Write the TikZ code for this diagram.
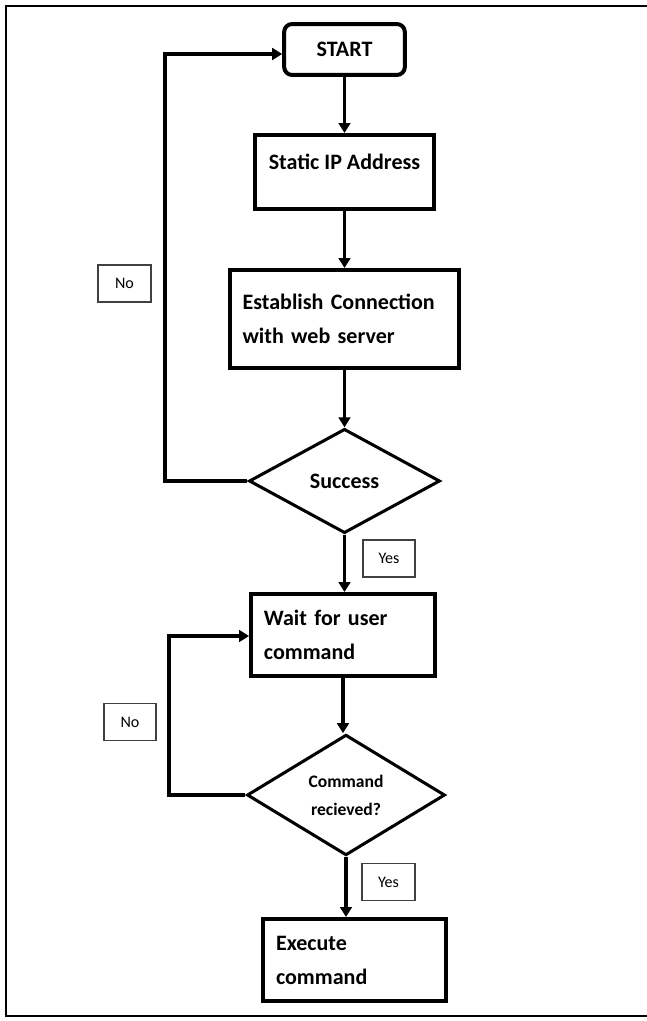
\documentclass[tikz,border=0pt]{standalone}
\usepackage{fontspec}
\setmainfont{Carlito}
\usetikzlibrary{shapes.geometric,arrows.meta}
\newcommand{\boxfont}{\fontsize{18.8pt}{29pt}\selectfont\bfseries}
\newcommand{\askfont}{\fontsize{15pt}{24pt}\selectfont\bfseries}
\newcommand{\tagfont}{\fontsize{13.7pt}{16pt}\selectfont}
\tikzset{
  startbox/.style={draw, rectangle, rounded corners=6.8pt, line width=3.4pt, font=\boxfont, minimum width=103pt, minimum height=43.5pt},
  stepbox/.style={draw, rectangle, line width=3.4pt, font=\boxfont, align=left, inner xsep=11pt},
  decision/.style={draw, diamond, line width=2.6pt, font=\boxfont, align=center, inner sep=0pt},
  tagbox/.style={draw=black!75, rectangle, line width=1.5pt, font=\tagfont, minimum width=45pt, minimum height=31.6pt, inner sep=0pt},
  flow/.style={->, line width=3.4pt}
}

\begin{document}
\begin{tikzpicture}[x=0.03cm, y=-0.03cm, >={Triangle[length=8.5pt,width=10pt]}]
  \useasboundingbox (0,0) rectangle (646,1021);
  % page frame, its right side runs off the page
  \draw[line width=2.2pt] (660,6) -- (6,6) -- (6,1016) -- (660,1016);

  % main column
  \node[startbox] (start) at (344.5,49.5) {START};
  \node[stepbox, align=center, minimum width=153.6pt, minimum height=63.2pt, text height=12pt, text depth=15.5pt] (ip) at (344.5,172) {Static IP Address};
  \node[stepbox, text width=174pt, minimum height=83.7pt] (conn) at (344.5,319) {Establish Connection\\with web server};
  \node[decision, minimum width=163pt, minimum height=89pt] (succ) at (344.5,481) {Success};
  \node[stepbox, text width=135pt, minimum height=70pt] (wait) at (343,635) {Wait for user\\command};
  \node[decision, font=\askfont, minimum width=169pt, minimum height=103pt] (recv) at (346,795) {Command\\recieved?};
  \node[stepbox, text width=134pt, minimum height=70pt] (exec) at (354.5,960) {Execute\\command};

  % yes / no tags
  \node[tagbox] (no1) at (124.5,283.5) {No};
  \node[tagbox] (yes1) at (389,558.5) {Yes};
  \node[tagbox] (no2) at (130,722) {No};
  \node[tagbox] (yes2) at (388.5,882) {Yes};

  % arrows down the column
  \draw[flow] (start) -- (ip);
  \draw[flow] (ip) -- (conn);
  \draw[flow] (conn) -- (succ);
  \draw[flow] (succ.south) -- (succ.south |- wait.north);
  \draw[flow] (wait.south) -- (wait.south |- recv.north);
  \draw[flow] (recv.south) -- (recv.south |- exec.north);

  % loops back on "No"
  \coordinate (back1) at (165,54);
  \draw[flow] (succ.west) -| (back1) -- (back1 -| start.west);
  \coordinate (back2) at (169,636);
  \draw[flow] (recv.west) -| (back2) -- (back2 -| wait.west);
\end{tikzpicture}
\end{document}
